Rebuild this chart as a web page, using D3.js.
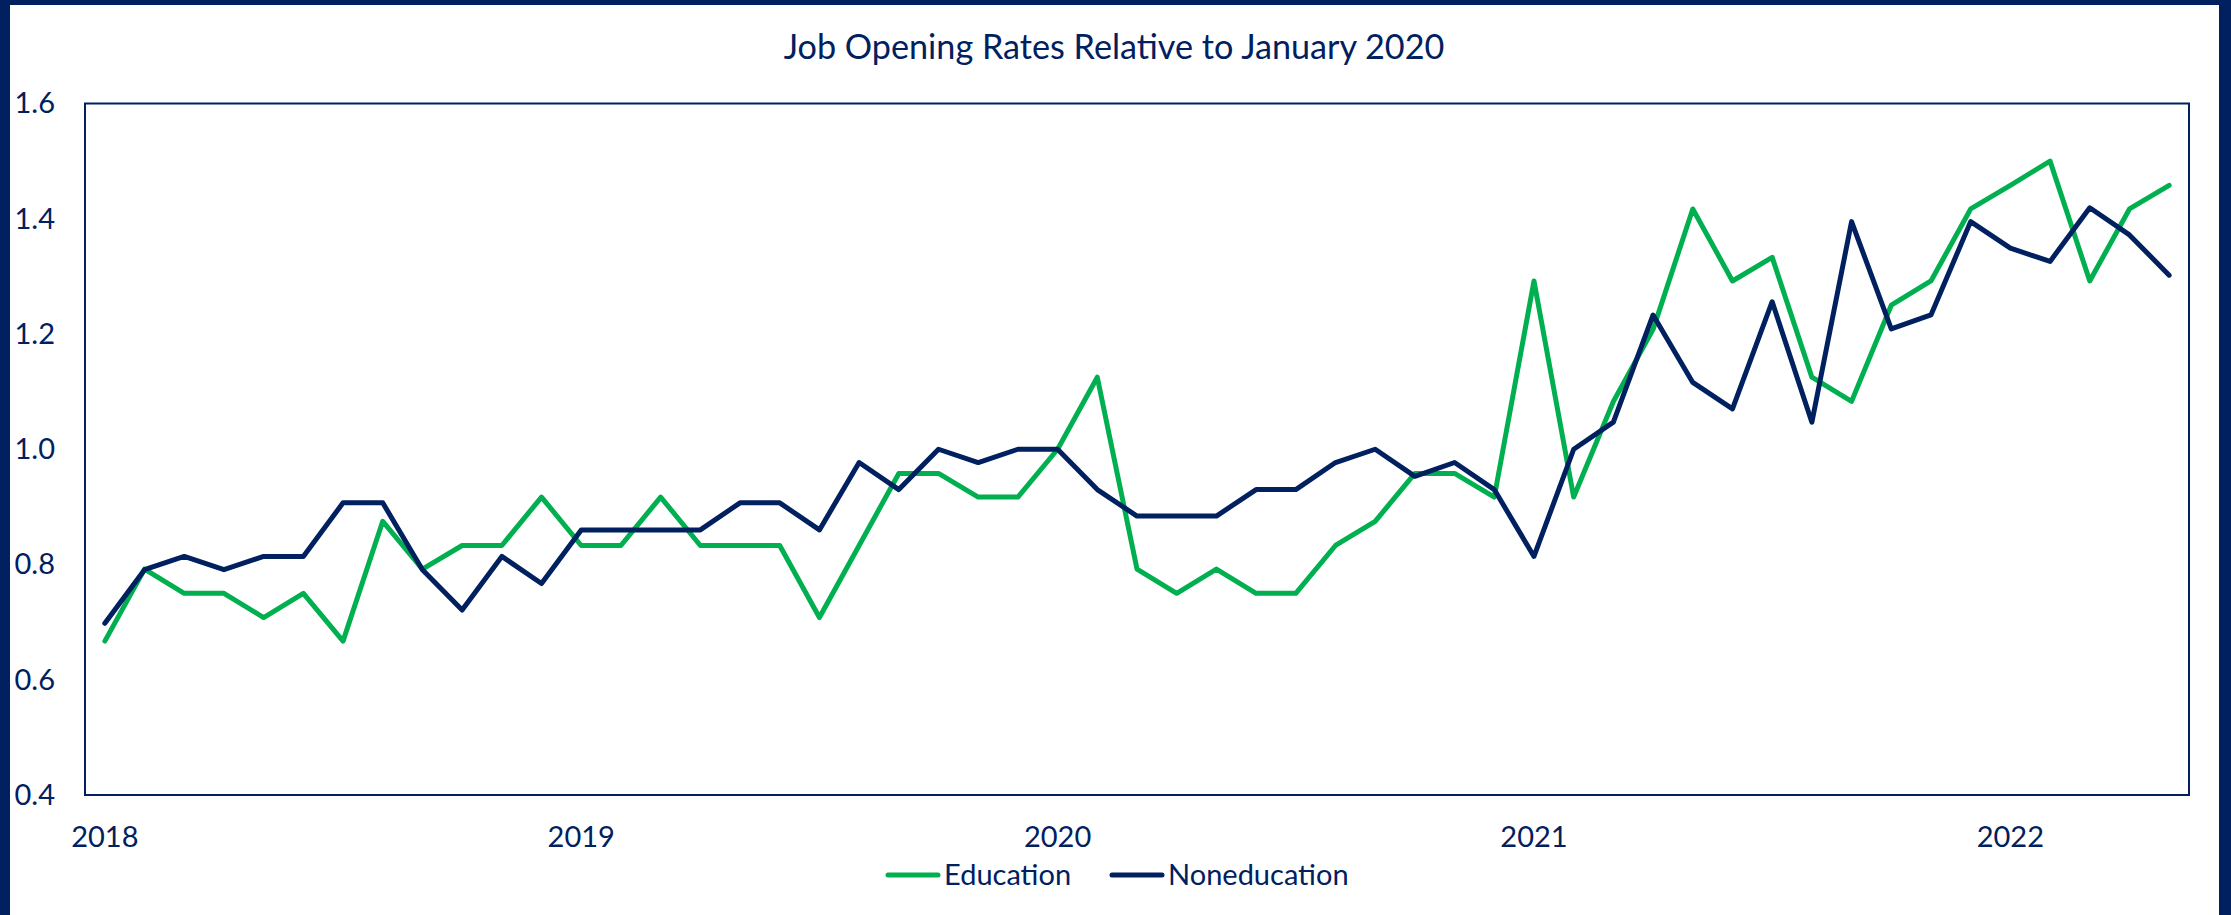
<!DOCTYPE html>
<html>
<head>
<meta charset="utf-8">
<script src="https://cdn.jsdelivr.net/npm/d3@7"></script>
<style>
  html, body { margin: 0; padding: 0; background: #ffffff; }
  svg { display: block; }
  text { font-family: Lato, "Noto Sans", sans-serif; fill: #002060; }
</style>
</head>
<body>
<svg id="chart" width="2231" height="915"></svg>
<script>
// Monthly observations, January 2018 through May 2022
const months = [
  "2018-01","2018-02","2018-03","2018-04","2018-05","2018-06","2018-07","2018-08","2018-09","2018-10","2018-11","2018-12",
  "2019-01","2019-02","2019-03","2019-04","2019-05","2019-06","2019-07","2019-08","2019-09","2019-10","2019-11","2019-12",
  "2020-01","2020-02","2020-03","2020-04","2020-05","2020-06","2020-07","2020-08","2020-09","2020-10","2020-11","2020-12",
  "2021-01","2021-02","2021-03","2021-04","2021-05","2021-06","2021-07","2021-08","2021-09","2021-10","2021-11","2021-12",
  "2022-01","2022-02","2022-03","2022-04","2022-05"
];

// Job opening rate divided by its January 2020 level
const education = [
  0.667, 0.792, 0.750, 0.750, 0.708, 0.750, 0.667, 0.875, 0.792, 0.833, 0.833, 0.917,
  0.833, 0.833, 0.917, 0.833, 0.833, 0.833, 0.708, 0.833, 0.958, 0.958, 0.917, 0.917,
  1.000, 1.125, 0.792, 0.750, 0.792, 0.750, 0.750, 0.833, 0.875, 0.958, 0.958, 0.917,
  1.292, 0.917, 1.083, 1.208, 1.417, 1.292, 1.333, 1.125, 1.083, 1.250, 1.292, 1.417,
  1.458, 1.500, 1.292, 1.417, 1.458
];
const noneducation = [
  0.698, 0.791, 0.814, 0.791, 0.814, 0.814, 0.907, 0.907, 0.791, 0.721, 0.814, 0.767,
  0.860, 0.860, 0.860, 0.860, 0.907, 0.907, 0.860, 0.977, 0.930, 1.000, 0.977, 1.000,
  1.000, 0.930, 0.884, 0.884, 0.884, 0.930, 0.930, 0.977, 1.000, 0.953, 0.977, 0.930,
  0.814, 1.000, 1.047, 1.233, 1.116, 1.070, 1.256, 1.047, 1.395, 1.209, 1.233, 1.395,
  1.349, 1.326, 1.419, 1.372, 1.302
];

const yearTicks = ["2018-01","2019-01","2020-01","2021-01","2022-01"];
const yearLabels = ["2018","2019","2020","2021","2022"];
const yTicks = [0.4, 0.6, 0.8, 1.0, 1.2, 1.4, 1.6];

const seriesNames = ["Education", "Noneducation"];
const seriesColors = ["#00B050", "#002060"];
const titleText = "Job Opening Rates Relative to January 2020";

const W = 2231, H = 915;
const navy = "#002060";
const plot = { left: 85, right: 2189, top: 103.5, bottom: 795 };
const labelSize = "29px";

const svg = d3.select("#chart");

// Page background with the dark frame along the top and sides
svg.append("rect").attr("x", 0).attr("y", 0).attr("width", W).attr("height", H).attr("fill", "#ffffff");
svg.append("rect").attr("x", 0).attr("y", 0).attr("width", W).attr("height", 5).attr("fill", navy);
svg.append("rect").attr("x", 0).attr("y", 0).attr("width", 10).attr("height", H).attr("fill", navy);
svg.append("rect").attr("x", W - 12).attr("y", 0).attr("width", 12).attr("height", H).attr("fill", navy);

const x = d3.scaleBand().domain(months).range([plot.left, plot.right]).padding(0);
const xc = m => x(m) + x.bandwidth() / 2;
const y = d3.scaleLinear().domain([0.4, 1.6]).range([plot.bottom, plot.top]);

// Title
svg.append("text")
  .attr("x", 1114).attr("y", 59)
  .attr("text-anchor", "middle")
  .style("font-size", "34.2px")
  .text(titleText);

// Plot area outline
svg.append("rect")
  .attr("x", plot.left).attr("y", plot.top)
  .attr("width", plot.right - plot.left).attr("height", plot.bottom - plot.top)
  .attr("fill", "none").attr("stroke", navy).attr("stroke-width", 2);

// Y axis labels
const yAxis = d3.axisLeft(y).tickValues(yTicks).tickFormat(d3.format(".1f")).tickSize(0).tickPadding(30);
const gy = svg.append("g").attr("transform", `translate(${plot.left},0)`).call(yAxis);
gy.select(".domain").remove();
gy.selectAll("text").style("font-size", labelSize).style("font-family", "Lato, 'Noto Sans', sans-serif").attr("fill", navy);

// X axis labels, one per January
const xAxis = d3.axisBottom(x).tickValues(yearTicks)
  .tickFormat(m => yearLabels[yearTicks.indexOf(m)]).tickSize(0).tickPadding(31);
const gx = svg.append("g").attr("transform", `translate(0,${plot.bottom})`).call(xAxis);
gx.select(".domain").remove();
gx.selectAll("text").style("font-size", labelSize).style("font-family", "Lato, 'Noto Sans', sans-serif").attr("fill", navy);

// Series lines
const line = d3.line().x((d, i) => xc(months[i])).y(d => y(d));
[education, noneducation].forEach((vals, si) => {
  svg.append("path")
    .datum(vals)
    .attr("d", line)
    .attr("fill", "none")
    .attr("stroke", seriesColors[si])
    .attr("stroke-width", 5)
    .attr("stroke-linejoin", "round")
    .attr("stroke-linecap", "round");
});

// Legend
const legendItems = [
  { name: seriesNames[0], color: seriesColors[0], x: 886 },
  { name: seriesNames[1], color: seriesColors[1], x: 1110 }
];
const lg = svg.append("g");
legendItems.forEach(it => {
  lg.append("line")
    .attr("x1", it.x + 2).attr("x2", it.x + 52)
    .attr("y1", 875).attr("y2", 875)
    .attr("stroke", it.color).attr("stroke-width", 5).attr("stroke-linecap", "round");
  lg.append("text")
    .attr("x", it.x + 58).attr("y", 885)
    .style("font-size", labelSize)
    .text(it.name);
});
</script>
</body>
</html>
